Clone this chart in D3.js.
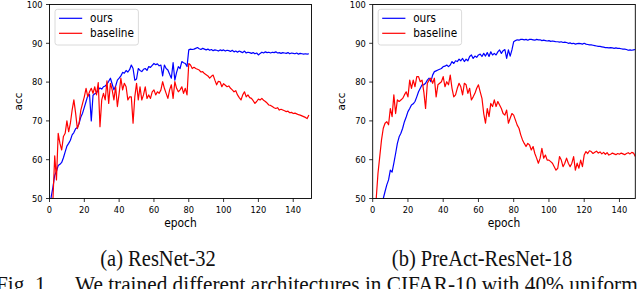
<!DOCTYPE html>
<html>
<head>
<meta charset="utf-8">
<script src="https://cdn.jsdelivr.net/npm/d3@7"></script>
<style>
  body { margin: 0; background: #fff; }
  svg { display: block; }
</style>
</head>
<body>
<div id="chart"></div>
<script>
// Data: test accuracy per epoch
const resnetOurs = [
  47, 50.5, 53, 56, 57, 58.5, 58.8, 59.3, 60.5, 62,
  63.5, 64.2, 65, 66.4, 67, 68, 68.3, 69.4, 71, 72,
  73.5, 75, 76.5, 76.8, 70, 76.6, 77, 77.2, 78, 78.5,
  78.2, 78.8, 79, 79.5, 80.2, 81, 79.5, 78, 79, 80.5,
  81, 81.6, 82.5, 82.3, 83, 82.6, 83.2, 84.4, 83.5, 80.5,
  80.8, 83.5, 83, 82.7, 83.3, 83.5, 83, 84, 83.8, 84.3,
  84.8, 84.5, 84.7, 84.2, 84.4, 81.6, 84.4, 83.5, 83.1, 82,
  81, 85, 80.5, 82.5, 84, 83.5, 85.3, 85, 84.8, 84,
  88.3, 88.5, 88.4, 88.5, 88.7, 88.9, 88.6, 88.4, 88.7, 88.5,
  88.3, 88.5, 88.2, 88.4, 88.1, 88.3, 88.2, 88.0, 88.3, 88.1,
  88.3, 88.0, 88.2, 88.1, 87.9, 88.2, 87.8, 88.0, 87.7, 88.0,
  87.8, 87.6, 88.0, 87.5, 87.7, 87.6, 87.4, 87.6, 87.3, 87.5,
  87.0, 87.4, 87.7, 87.5, 87.8, 87.6, 87.7, 87.5, 87.7, 87.6,
  87.8, 87.5, 87.6, 87.4, 87.6, 87.5, 87.4, 87.6, 87.3, 87.5,
  87.4, 87.3, 87.5, 87.2, 87.4, 87.3, 87.2, 87.3, 87.2, 87.3
];
const resnetBaseline = [
  45, 47, 50, 61, 54.8, 66.8, 64.2, 62.5, 66, 66.8,
  70, 67.2, 69.4, 72.8, 75.4, 72, 68, 69.4, 72.8, 74.5,
  76.2, 78.4, 76.2, 77.5, 78.4, 77.1, 78.8, 76.7, 79.9, 68.5,
  75.4, 77.1, 75.4, 80.3, 74.5, 79.7, 78, 75.4, 78.8, 73.7,
  77.1, 81, 78, 79.7, 78.8, 75.4, 76.2, 76.2, 69.4, 76.2,
  79.7, 75.4, 78.8, 75.4, 76.7, 78.8, 75.8, 76.7, 75.8, 77.5,
  78, 76.7, 77.5, 77.1, 78, 80.1, 78.4, 77.1, 75.8, 78,
  79.3, 75.8, 80.1, 78.4, 77.5, 78, 78.8, 77.1, 78.4, 76.7,
  84.8, 84.4, 83.5, 83.8, 83.5, 83.3, 83.1, 82.6, 82.7, 82.2,
  81.9, 81.6, 81.0, 81.5, 81.8, 80.5, 79.3, 80.2, 80.1, 78.8,
  79.6, 79.2, 78.8, 79.0, 78.4, 78.0, 77.5, 77.8, 76.7, 76.0,
  75.4, 76.7, 77.5, 76.2, 76.7, 76.0, 75.8, 75.2, 74.5, 75.0,
  75.6, 75.4, 75.8, 75.3, 75.0, 74.6, 74.1, 74.0, 73.7, 73.4,
  73.2, 73.4, 72.8, 73.0, 72.8, 72.6, 72.4, 72.5, 72.1, 72.2,
  71.9, 72.0, 71.8, 71.6, 71.5, 71.3, 71.1, 70.9, 70.6, 71.5
];
const preactOurs = [
  40, 41.5, 43, 44.5, 46, 48, 50, 51.8, 53.5, 54.8,
  57.3, 56.8, 59.1, 61.6, 64.2, 65.9, 66.8, 68.1, 69.8, 71,
  72.4, 73.2, 74.1, 74.4, 75, 76.2, 77.5, 78.4, 79.3, 79.3,
  79.7, 80.5, 81, 80.1, 81.8, 82.7, 82.9, 83.1, 83.3, 83.5,
  84, 84.1, 84.4, 84, 84.4, 85.3, 84.8, 85.5, 85.3, 85.9,
  85.5, 86.1, 85.3, 85.9, 85.5, 86.6, 87, 86.1, 86.7, 86.4,
  87, 87.2, 86.6, 87.4, 86.7, 87.6, 86.6, 87.8, 87, 87.4,
  87, 87.8, 88.3, 87.4, 88.1, 88.4, 86.1, 88.3, 86.7, 88.3,
  90.4, 90.7, 90.9, 90.8, 91.0, 91.0, 90.9, 91.0, 90.8, 91.0,
  91.0, 90.9, 90.8, 91.0, 90.9, 90.9, 90.7, 90.8, 90.7, 90.6,
  90.7, 90.5, 90.6, 90.5, 90.4, 90.4, 90.3, 90.4, 90.2, 90.3,
  90.2, 90.0, 90.1, 89.9, 90.0, 89.8, 89.9, 90.0, 89.9, 89.8,
  90.0, 89.8, 89.7, 89.6, 89.6, 89.5, 89.4, 89.3, 89.2, 89.2,
  89.1, 89.0, 88.9, 88.9, 88.8, 88.9, 88.8, 88.7, 88.8, 88.7,
  88.7, 88.6, 88.5, 88.5, 88.4, 88.2, 88.3, 88.2, 88.3, 88.4
];
const preactBaseline = [
  40, 45, 50, 56.5, 60.8, 65.1, 68.1, 69.4, 69.8, 69,
  73.2, 71.1, 76.7, 71.9, 75.4, 75, 75.4, 75.8, 76.7, 77.5,
  76.2, 80.5, 78.4, 80.5, 78.8, 81.4, 81.4, 80.1, 80.5, 77.5,
  73.2, 79.7, 80.5, 81, 79.7, 81, 76.2, 79.3, 79.7, 80.1,
  81.4, 78.8, 80.1, 79.3, 81.8, 78.4, 76.2, 76.7, 78.4, 79.7,
  78.8, 76.7, 79.7, 79.3, 77.1, 78.4, 75.4, 76.2, 77.1, 78.4,
  79.3, 77.5, 75.8, 71.9, 69.4, 73.2, 71.1, 74.5, 73.7, 75.4,
  73.7, 75, 74.1, 73.2, 71.9, 71.5, 72.8, 69.4, 70.7, 71.9,
  71.5, 70.2, 68.9, 68.1, 66.4, 65.1, 64.2, 63.4, 64.2, 63.8,
  62.5, 63.4, 61.6, 60.4, 59.1, 60.4, 62.9, 60.4, 61.2, 59.9,
  59.9, 59.5, 59.1, 58.2, 57.3, 57.8, 60.8, 59.9, 58.2, 59.1,
  60.4, 59.1, 58.2, 59.1, 60.8, 57.3, 59.1, 57.8, 59.9, 58.2,
  61.2, 62.1, 61.6, 62.3, 62.1, 61.6, 61.9, 62.2, 61.7, 62.0,
  61.5, 61.9, 61.4, 61.8, 61.2, 61.4, 61.7, 61.5, 61.3, 61.6,
  61.4, 61.7, 61.5, 61.3, 61.6, 61.8, 61.5, 61.9, 61.7, 60.8
];
const xTicks = [0, 20, 40, 60, 80, 100, 120, 140];
const yTicks = [50, 60, 70, 80, 90, 100];
const seriesNames = ["ours", "baseline"];
const seriesColors = ["#0000ff", "#ff0000"];
const captions = ["(a) ResNet-32", "(b) PreAct-ResNet-18"];
const figCaption = "We trained different architectures in CIFAR-10 with 40% uniform";

const width = 640, height = 289;
const plotTop = 4.5, plotBottom = 198.5;
const stretch = "scale(1,1.13)"; // the source image is slightly taller than wide

const panels = [
  { left: 49.5, right: 311.5, xMax: 150.5, labelX: 18.5, capX: 158, series: [resnetOurs, resnetBaseline] },
  { left: 372.7, right: 635.3, xMax: 149, labelX: 341.7, capX: 482, series: [preactOurs, preactBaseline] }
];

const svg = d3.select("#chart").append("svg")
  .attr("width", width)
  .attr("height", height)
  .style("background", "#fff");

const sans = "DejaVu Sans, sans-serif";
const serif = "Liberation Serif, Times New Roman, serif";

panels.forEach((p, i) => {
  const x = d3.scaleLinear().domain([0, p.xMax]).range([p.left, p.right]);
  const y = d3.scaleLinear().domain([50, 100]).range([plotBottom, plotTop]);

  svg.append("clipPath").attr("id", "clip" + i)
    .append("rect")
    .attr("x", p.left).attr("y", plotTop)
    .attr("width", p.right - p.left).attr("height", plotBottom - plotTop);

  // lines
  const line = d3.line().x((d, j) => x(j)).y(d => y(d));
  p.series.forEach((s, k) => {
    svg.append("path")
      .datum(s)
      .attr("clip-path", `url(#clip${i})`)
      .attr("fill", "none")
      .attr("stroke", seriesColors[k])
      .attr("stroke-width", 1.2)
      .attr("stroke-linejoin", "round")
      .attr("d", line);
  });

  // frame
  svg.append("rect")
    .attr("x", p.left).attr("y", plotTop)
    .attr("width", p.right - p.left).attr("height", plotBottom - plotTop)
    .attr("fill", "none").attr("stroke", "#000").attr("stroke-width", 0.9);

  // x ticks
  const xt = svg.append("g");
  xTicks.forEach(t => {
    xt.append("line")
      .attr("x1", x(t)).attr("x2", x(t))
      .attr("y1", plotBottom).attr("y2", plotBottom + 3.5)
      .attr("stroke", "#000").attr("stroke-width", 0.8);
    xt.append("text")
      .attr("transform", `translate(${x(t)},${plotBottom + 14}) ${stretch}`)
      .attr("text-anchor", "middle")
      .style("font-family", sans).style("font-size", "8.3px")
      .text(t);
  });

  // y ticks
  const yt = svg.append("g");
  yTicks.forEach(t => {
    yt.append("line")
      .attr("x1", p.left - 3.5).attr("x2", p.left)
      .attr("y1", y(t)).attr("y2", y(t))
      .attr("stroke", "#000").attr("stroke-width", 0.8);
    yt.append("text")
      .attr("transform", `translate(${p.left - 7},${y(t) + 3.2}) ${stretch}`)
      .attr("text-anchor", "end")
      .style("font-family", sans).style("font-size", "8.3px")
      .text(t);
  });

  // axis labels
  svg.append("text")
    .attr("transform", `translate(${(p.left + p.right) / 2},${plotBottom + 28}) ${stretch}`)
    .attr("text-anchor", "middle")
    .style("font-family", sans).style("font-size", "10.7px")
    .text("epoch");
  svg.append("text")
    .attr("transform", `translate(${p.labelX + 3.5},${(plotTop + plotBottom) / 2}) rotate(-90)`)
    .attr("text-anchor", "middle")
    .style("font-family", sans).style("font-size", "10.5px")
    .text("acc");

  // legend
  const lg = svg.append("g").attr("transform", `translate(${p.left + 5.5},9.3)`);
  lg.append("rect")
    .attr("width", 83.4).attr("height", 35.7)
    .attr("rx", 2.5)
    .attr("fill", "#fff").attr("fill-opacity", 0.8)
    .attr("stroke", "#d0d0d0").attr("stroke-width", 0.8);
  seriesNames.forEach((name, k) => {
    const ly = 9 + k * 15;
    lg.append("line")
      .attr("x1", 4).attr("x2", 27.2)
      .attr("y1", ly).attr("y2", ly)
      .attr("stroke", seriesColors[k]).attr("stroke-width", 1.2);
    lg.append("text")
      .attr("transform", `translate(35,${ly + 3.8}) ${stretch}`)
      .style("font-family", sans).style("font-size", "10.5px")
      .text(name);
  });

  // sub-caption
  svg.append("text")
    .attr("transform", `translate(${p.capX},265.5) ${stretch}`)
    .attr("text-anchor", "middle")
    .style("font-family", serif).style("font-size", "20.5px")
    .attr("fill", "#111")
    .text(captions[i]);
});

// figure caption (cut off at the bottom edge, as in the source page)
svg.append("text")
  .attr("transform", `translate(-4,292) ${stretch}`)
  .style("font-family", serif).style("font-size", "21.3px")
  .attr("fill", "#111")
  .text("Fig. 1.");
svg.append("text")
  .attr("transform", `translate(75,292) ${stretch}`)
  .style("font-family", serif).style("font-size", "21.3px")
  .attr("fill", "#111")
  .text(figCaption);
</script>
</body>
</html>
